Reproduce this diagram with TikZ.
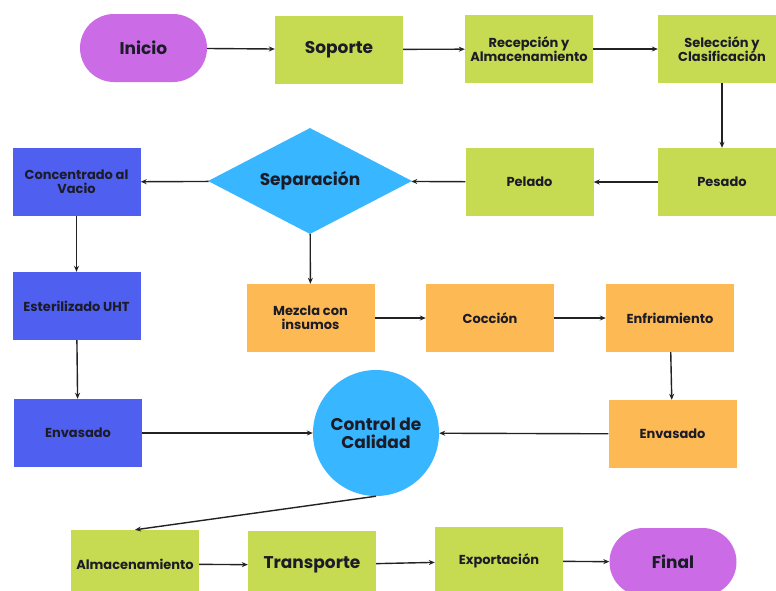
\documentclass[tikz,border=0pt]{standalone}
\usepackage{fontspec}
\setmainfont{Poppins}
\usetikzlibrary{shapes.geometric,arrows.meta}
\definecolor{cpurple}{HTML}{CB6CE6}
\definecolor{cgreen}{HTML}{C6DB52}
\definecolor{cblue}{HTML}{4F60F0}
\definecolor{clight}{HTML}{38B6FF}
\definecolor{corange}{HTML}{FDB954}
\definecolor{txt}{HTML}{1C1C28}
\definecolor{lin}{HTML}{222222}
\begin{document}
\begin{tikzpicture}[x=1pt,y=-1pt,
  base/.style={align=center,text=txt,inner sep=2pt},
  big/.style={font=\bfseries\fontsize{17}{18}\selectfont},
  med/.style={font=\bfseries\fontsize{13}{14.3}\selectfont},
  box/.style={base,med,minimum width=128pt,minimum height=68pt},
  gbox/.style={box,fill=cgreen},
  bbox/.style={box,fill=cblue},
  obox/.style={box,fill=corange},
  term/.style={base,big,fill=cpurple,minimum width=127pt,minimum height=68pt,rounded corners=34pt},
  arr/.style={draw=lin,line width=1.4pt,-{Stealth[length=6pt,width=5pt]}}]
\useasboundingbox (0,0) rectangle (776,590);
\clip (0,0) rectangle (776,590);
\fill[white] (0,0) rectangle (776,590);
% nodes
\node[term] (inicio) at (143.5,48) {Inicio};
\node[gbox,big] (soporte) at (339,49.5) {Soporte};
\node[gbox] (recep) at (529,49) {Recepción y\\Almacenamiento};
\node[gbox] (selec) at (722,49) {Selección y\\Clasificación};
\node[gbox] (pesado) at (722,182) {Pesado};
\node[gbox] (pelado) at (529.5,182) {Pelado};
\node[diamond,base,big,fill=clight,shape aspect=1.92,minimum width=204pt,minimum height=106pt,inner sep=0pt] (sep) at (310,181) {Separación};
\node[bbox] (conc) at (76.5,182) {Concentrado al\\Vacio};
\node[bbox] (ester) at (76.5,306) {Esterilizado UHT};
\node[bbox] (envb) at (78,433) {Envasado};
\node[obox] (mezcla) at (310.5,318) {Mezcla con\\insumos};
\node[obox] (coccion) at (490,318) {Cocción};
\node[obox] (enfr) at (670,318) {Enfriamiento};
\node[obox] (envo) at (672.5,434) {Envasado};
\node[circle,base,big,fill=clight,minimum size=126pt] (control) at (376,433) {Control de\\Calidad};
\node[gbox] (alm) at (135,564) {Almacenamiento};
\node[gbox,big] (transp) at (312,565) {Transporte};
\node[gbox] (export) at (499,561) {Exportación};
\node[term] (final) at (673,562) {Final};
% connectors
\draw[arr] (inicio) -- (soporte);
\draw[arr] (soporte) -- (recep);
\draw[arr] (recep) -- (selec);
\draw[arr] (selec) -- (pesado);
\draw[arr] (pesado) -- (pelado);
\draw[arr] (pelado) -- (sep);
\draw[arr] (sep) -- (conc);
\draw[arr] (sep) -- (mezcla);
\draw[arr] (conc) -- (ester);
\draw[arr] (ester) -- (envb);
\draw[arr] (mezcla) -- (coccion);
\draw[arr] (coccion) -- (enfr);
\draw[arr] (enfr) -- (envo);
\draw[arr] (envo) -- (control);
\draw[arr] (envb) -- (control);
\draw[arr] (control.south) -- (alm.north);
\draw[arr] (alm) -- (transp);
\draw[arr] (transp) -- (export);
\draw[arr] (export) -- (final);
\end{tikzpicture}
\end{document}
